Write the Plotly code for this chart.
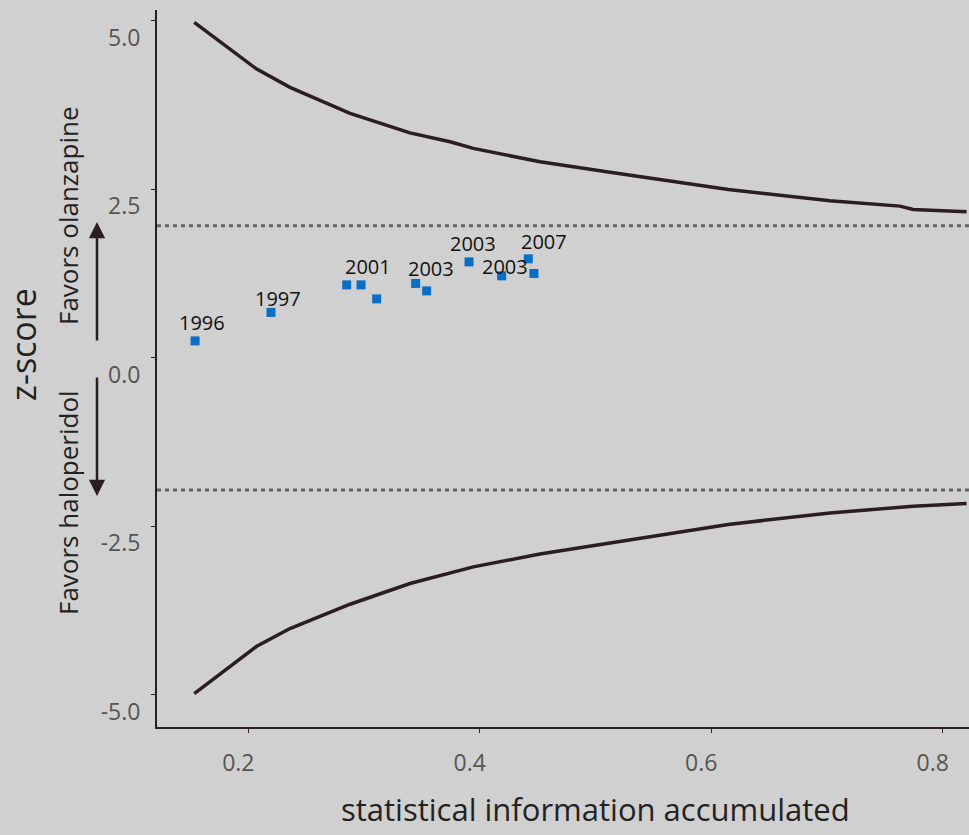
import plotly.graph_objects as go

# ---- data ----
bound_x = [0.1533, 0.2073, 0.2360, 0.2879, 0.3397, 0.3743, 0.3944, 0.4520,
           0.5096, 0.5672, 0.6147, 0.7025, 0.7630, 0.7745, 0.8206]
upper_z = [4.976, 4.283, 4.012, 3.626, 3.338, 3.205, 3.107, 2.908,
           2.760, 2.611, 2.499, 2.329, 2.251, 2.202, 2.166]
lower_z = [-4.979, -4.278, -4.015, -3.654, -3.347, -3.190, -3.100, -2.910,
           -2.750, -2.590, -2.470, -2.300, -2.225, -2.200, -2.160]

trial_x = [0.1540, 0.2196, 0.2850, 0.2974, 0.3109, 0.3446, 0.3541,
           0.3907, 0.4189, 0.4419, 0.4468]
trial_z = [0.252, 0.674, 1.083, 1.083, 0.875, 1.104, 0.994,
           1.424, 1.217, 1.469, 1.252]
trial_label = ["1996", "1997", "", "2001", "", "2003", "",
               "2003", "2003", "2007", ""]

conventional_z = [1.96, -1.96]

y_tickvals = [-5.0, -2.5, 0.0, 2.5, 5.0]
y_ticktext = ["-5.0", "-2.5", "0.0", "2.5", "5.0"]
x_tickvals = [0.2, 0.4, 0.6, 0.8]
x_ticktext = ["0.2", "0.4", "0.6", "0.8"]

# label offsets in pixels (dx, dy)
label_shift = [(7, 18), (7, 14), (0, 0), (7, 18), (0, 0), (15, 15), (0, 0),
               (4, 18), (3, 9), (16, 17), (0, 0)]

BG = "#d0d0d0"
INK = "#2b1e21"
FONT = "Open Sans"

fig = go.Figure()

fig.add_trace(go.Scatter(x=bound_x, y=upper_z, mode="lines",
                         line=dict(color=INK, width=3.5), hoverinfo="skip",
                         showlegend=False))
fig.add_trace(go.Scatter(x=bound_x, y=lower_z, mode="lines",
                         line=dict(color=INK, width=3.5), hoverinfo="skip",
                         showlegend=False))

for z in conventional_z:
    fig.add_hline(y=z, line=dict(color="#666666", width=3, dash="4px,4px"))

fig.add_trace(go.Scatter(x=trial_x, y=trial_z, mode="markers",
                         marker=dict(symbol="square", size=9, color="#0a6fc4"),
                         showlegend=False))

for x, z, lab, (dx, dy) in zip(trial_x, trial_z, trial_label, label_shift):
    if lab:
        fig.add_annotation(x=x, y=z, text=lab, showarrow=False,
                           xshift=dx, yshift=dy,
                           font=dict(family=FONT, size=20, color="#111111"))

# side labels and arrows
fig.add_annotation(xref="paper", yref="paper", x=(68 - 157) / 812,
                   y=(727 - 216) / 717, text="Favors olanzapine",
                   textangle=-90, showarrow=False,
                   xanchor="center", yanchor="middle",
                   font=dict(family=FONT, size=26, color="#222222"))
fig.add_annotation(xref="paper", yref="paper", x=(68 - 157) / 812,
                   y=(727 - 503) / 717, text="Favors haloperidol",
                   textangle=-90, showarrow=False,
                   xanchor="center", yanchor="middle",
                   font=dict(family=FONT, size=26, color="#222222"))
fig.add_annotation(xref="paper", yref="paper", x=(97 - 157) / 812,
                   y=(727 - 222) / 717, ax=0, ay=120, text="",
                   showarrow=True, arrowhead=2, arrowsize=1.3,
                   arrowwidth=2.5, arrowcolor=INK)
fig.add_annotation(xref="paper", yref="paper", x=(97 - 157) / 812,
                   y=(727 - 496) / 717, ax=0, ay=-120, text="",
                   showarrow=True, arrowhead=2, arrowsize=1.3,
                   arrowwidth=2.5, arrowcolor=INK)

# axis titles
fig.add_annotation(xref="paper", yref="paper", x=(23 - 157) / 812,
                   y=(727 - 345) / 717, text="z-score", textangle=-90,
                   showarrow=False, xanchor="center", yanchor="middle",
                   font=dict(family=FONT, size=34, color="#222222"))
fig.add_annotation(xref="paper", yref="paper", x=(595 - 157) / 812,
                   y=(727 - 809) / 717, text="statistical information accumulated",
                   showarrow=False, xanchor="center", yanchor="middle",
                   font=dict(family=FONT, size=31, color="#222222"))

fig.update_layout(
    width=969, height=835,
    margin=dict(l=157, r=0, t=10, b=108),
    paper_bgcolor=BG, plot_bgcolor=BG,
    showlegend=False,
)
fig.update_xaxes(range=[0.1211, 0.8227], showgrid=False, zeroline=False,
                 showline=True, linecolor=INK, linewidth=2,
                 ticks="outside", ticklen=4, tickwidth=1, tickcolor=INK,
                 tickvals=x_tickvals, ticktext=x_ticktext,
                 ticklabelshift=-10, ticklabelstandoff=10,
                 tickfont=dict(family=FONT, size=23, color="#555555"))
fig.update_yaxes(range=[-5.475, 5.16], showgrid=False, zeroline=False,
                 showline=True, linecolor=INK, linewidth=2,
                 ticks="outside", ticklen=4, tickwidth=1, tickcolor=INK,
                 tickvals=y_tickvals, ticktext=y_ticktext,
                 ticklabelshift=17, ticklabelstandoff=6,
                 tickfont=dict(family=FONT, size=23, color="#555555"))

fig.write_html("out.html", config={"displayModeBar": False},
               post_script="document.body.style.margin='0';"
                           "document.body.style.background='%s';" % BG)
